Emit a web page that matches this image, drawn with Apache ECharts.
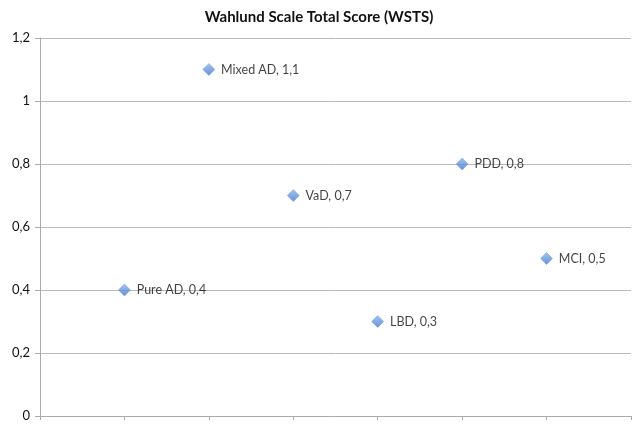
<!DOCTYPE html>
<html><head><meta charset="utf-8">
<script src="https://cdn.jsdelivr.net/npm/echarts@6/dist/echarts.min.js"></script>
<style>html,body{margin:0;padding:0;background:#fff}#c{width:638px;height:432px}</style>
</head><body><div id="c"></div>
<script>
const categories = ["Pure AD", "Mixed AD", "VaD", "LBD", "PDD", "MCI"];
const positions = [1, 2, 3, 4, 5, 6];
const values = [0.4, 1.1, 0.7, 0.3, 0.8, 0.5];
const yTicks = [0, 0.2, 0.4, 0.6, 0.8, 1.0, 1.2];

const fmt = v => String(Math.round(v * 10) / 10).replace('.', ',');
const font = 'Lato, "Open Sans", sans-serif';
const chart = echarts.init(document.getElementById('c'), null, {renderer: 'canvas'});
chart.setOption({
  animation: false,
  title: {text: 'Wahlund Scale Total Score (WSTS)', left: 'center', top: 5,
    textStyle: {fontFamily: font, fontWeight: 'bold', fontSize: 15, color: '#111'}},
  grid: {left: 40, right: 7, top: 38, bottom: 16},
  xAxis: {type: 'value', min: 0, max: 7, interval: 1,
    axisLine: {show: true, lineStyle: {color: '#aaa', width: 1}},
    axisTick: {show: true, length: 4, lineStyle: {color: '#aaa'}},
    axisLabel: {show: false}, splitLine: {show: false}},
  yAxis: {type: 'value', min: yTicks[0], max: yTicks[yTicks.length - 1], interval: 0.2,
    axisLine: {show: true, lineStyle: {color: '#aaa', width: 1}},
    axisTick: {show: true, length: 5, lineStyle: {color: '#aaa'}},
    axisLabel: {fontFamily: font, fontSize: 13, color: '#111', margin: 10, formatter: v => fmt(v)},
    splitLine: {show: true, lineStyle: {color: '#bbb', width: 1}}},
  series: [{
    type: 'scatter', symbol: 'diamond', symbolSize: 12,
    itemStyle: {color: new echarts.graphic.LinearGradient(0, 0, 0, 1, [{offset: 0, color: '#8db5ec'}, {offset: 1, color: '#3f76c9'}]),
      borderColor: '#5b8bd3', borderWidth: 0.5},
    data: positions.map((x, i) => ({value: [x, values[i]], name: categories[i]})),
    label: {show: true, position: 'right', distance: 6, fontFamily: font, fontSize: 12.5, color: '#111',
      formatter: p => p.name + ', ' + fmt(p.value[1])}
  }]
});
</script></body></html>
